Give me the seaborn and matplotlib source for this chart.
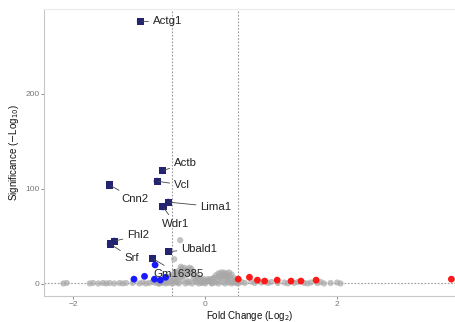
import numpy as np
import pandas as pd
import seaborn as sns
import matplotlib.pyplot as plt

# --- data ---
grey_fc = [-2.15, -2.1, -1.75, -1.7, -1.62, -1.55, -1.5, -1.45, -1.38, -1.3, -1.25, -1.2,
           -1.1, -1.0, -0.95, -0.9, -0.85, -0.8,
           -0.75, -0.72, -0.7, -0.68, -0.65, -0.62, -0.6, -0.58, -0.55, -0.53, -0.5, -0.48,
           -0.46, -0.44, -0.42, -0.4, -0.38, -0.36, -0.34, -0.32, -0.3, -0.28, -0.26, -0.24,
           -0.22, -0.2, -0.18, -0.16, -0.14, -0.12, -0.1, -0.08, -0.06, -0.04, -0.02, 0.0,
           0.02, 0.04, 0.06, 0.08, 0.1, 0.12, 0.14, 0.16, 0.18, 0.2, 0.22, 0.24, 0.26, 0.28,
           0.3, 0.32, 0.34, 0.36, 0.38, 0.4, 0.42, 0.44, 0.46, 0.48,
           -0.7, -0.6, -0.5, -0.4, -0.3, -0.2, -0.1, 0.0, 0.1, 0.2, 0.3, 0.4, 0.5,
           -0.65, -0.45, -0.25, -0.05, 0.15, 0.35, 0.45,
           -0.55, -0.35, -0.15, 0.05, 0.25, -0.33, -0.27, 0.21, 0.27, -0.43, 0.33,
           -0.37, -0.31, -0.25, -0.21, -0.41, 0.31, 0.37,
           0.55, 0.6, 0.7, 0.75, 0.85, 0.95, 1.0, 1.1, 1.2, 1.25, 1.35, 1.4, 1.5, 1.55,
           1.6, 1.7, 1.75, 1.8, 1.9, 2.0, 2.05,
           -0.38, -0.47]
grey_sig = [0.5, 1, 0.5, 1, 0.5, 1, 0.5, 1, 0.5, 1, 0.5, 1,
            1, 0.5, 1.5, 0.5, 1, 2,
            1, 2, 0.5, 3, 1.5, 4, 2, 6, 1, 8, 3, 10,
            5, 12, 2, 14, 7, 16, 4, 17, 9, 15, 3, 17,
            11, 13, 6, 10, 2, 8, 5, 6, 1, 4, 5, 2,
            3, 5, 3, 5, 1, 6, 6, 9, 3, 11, 7, 12, 2, 12,
            8, 11, 4, 12, 6, 10, 2, 6, 4, 1,
            0.5, 0.5, 0.5, 0.5, 0.5, 0.5, 0.5, 0.5, 0.5, 0.5, 0.5, 0.5, 0.5,
            1.5, 1.5, 1.5, 1.5, 1.5, 1.5, 1.5,
            5, 9, 4, 3, 6, 12, 11, 8, 9, 7, 6,
            18, 14, 13, 16, 11, 9, 8,
            2, 1, 2.5, 1, 1.5, 1, 2, 1, 1.5, 0.5, 1, 2, 1, 0.5,
            1.5, 1, 2, 0.5, 1, 1.5, 0.5,
            46, 26]

blue_fc = [-0.76, -0.92, -1.08, -0.77, -0.6, -0.68]
blue_sig = [20, 8, 5, 5, 7, 4]

red_fc = [0.5, 0.67, 0.79, 0.9, 1.09, 1.3, 1.45, 1.68, 3.73]
red_sig = [5, 7, 4, 3, 4, 3, 3, 4, 5]

genes = ['Actg1', 'Actb', 'Vcl', 'Cnn2', 'Lima1', 'Wdr1', 'Fhl2', 'Srf', 'Ubald1', 'Gm16385']
gene_fc = [-0.985, -0.65, -0.73, -1.45, -0.56, -0.64, -1.38, -1.44, -0.55, -0.80]
gene_sig = [276, 119, 108, 104, 86, 81, 45, 42, 34, 27]

# label positions (data coords) and alignment
label_xy = {'Actg1': (-0.79, 276, 'left'), 'Actb': (-0.47, 127, 'left'),
            'Vcl': (-0.47, 104, 'left'), 'Cnn2': (-1.27, 89, 'left'),
            'Lima1': (-0.07, 81, 'left'), 'Wdr1': (-0.45, 63, 'center'),
            'Fhl2': (-1.18, 51, 'left'), 'Srf': (-1.22, 27, 'left'),
            'Ubald1': (-0.36, 37, 'left'), 'Gm16385': (-0.78, 10, 'left')}

grey = pd.DataFrame({'fc': grey_fc, 'sig': grey_sig})
blue = pd.DataFrame({'fc': blue_fc + gene_fc, 'sig': blue_sig + gene_sig})
red = pd.DataFrame({'fc': red_fc, 'sig': red_sig})
lab = pd.DataFrame({'gene': genes, 'fc': gene_fc, 'sig': gene_sig})

sns.set_theme(style='white')
plt.rcParams['font.family'] = ['Liberation Sans', 'DejaVu Sans']

fig = plt.figure(figsize=(4.56, 3.22), dpi=100)
ax = fig.add_axes([0.097, 0.081, 0.903, 0.891])

sns.scatterplot(data=grey, x='fc', y='sig', color='#a8a8a8', alpha=0.7, s=20,
                edgecolor='none', ax=ax)
sns.scatterplot(data=blue, x='fc', y='sig', color='#1a1aff', s=24,
                edgecolor='none', ax=ax)
sns.scatterplot(data=red, x='fc', y='sig', color='#ff1a1a', s=24,
                edgecolor='none', ax=ax)
sns.scatterplot(data=lab, x='fc', y='sig', color='#232370', marker='s', s=26,
                edgecolor='none', ax=ax)

for g, x, y in zip(genes, gene_fc, gene_sig):
    tx, ty, ha = label_xy[g]
    ax.annotate(g, xy=(x, y), xytext=(tx, ty), ha=ha, va='center', fontsize=8.2,
                color='#222222',
                arrowprops=dict(arrowstyle='-', color='#444444', lw=0.6,
                                shrinkA=1, shrinkB=1))

ax.axvline(-0.5, color='#999999', ls=(0, (1.5, 1.5)), lw=0.8, zorder=0)
ax.axvline(0.5, color='#999999', ls=(0, (1.5, 1.5)), lw=0.8, zorder=0)
ax.axhline(1.3, color='#999999', ls=(0, (1.5, 1.5)), lw=0.8, zorder=0)

ax.set_xlim(-2.44, 3.8)
ax.set_ylim(-12.6, 289)
ax.set_xticks([-2, 0, 2])
ax.set_yticks([0, 100, 200])
ax.tick_params(axis='both', labelsize=6, colors='#777777', length=2, width=0.6,
               pad=1.5, left=True, bottom=True)
ax.set_xlabel('Fold Change (Log$_2$)', fontsize=7, color='#111111', labelpad=1)
ax.set_ylabel('Significance ($-$Log$_{10}$)', fontsize=7, color='#111111', labelpad=3)

for side in ['left', 'bottom']:
    ax.spines[side].set_color('#c8c8c8')
    ax.spines[side].set_linewidth(0.8)
ax.spines['top'].set_color('#ebebeb')
ax.spines['top'].set_linewidth(0.8)
ax.spines['right'].set_visible(False)

plt.savefig('out.png', dpi=100)
